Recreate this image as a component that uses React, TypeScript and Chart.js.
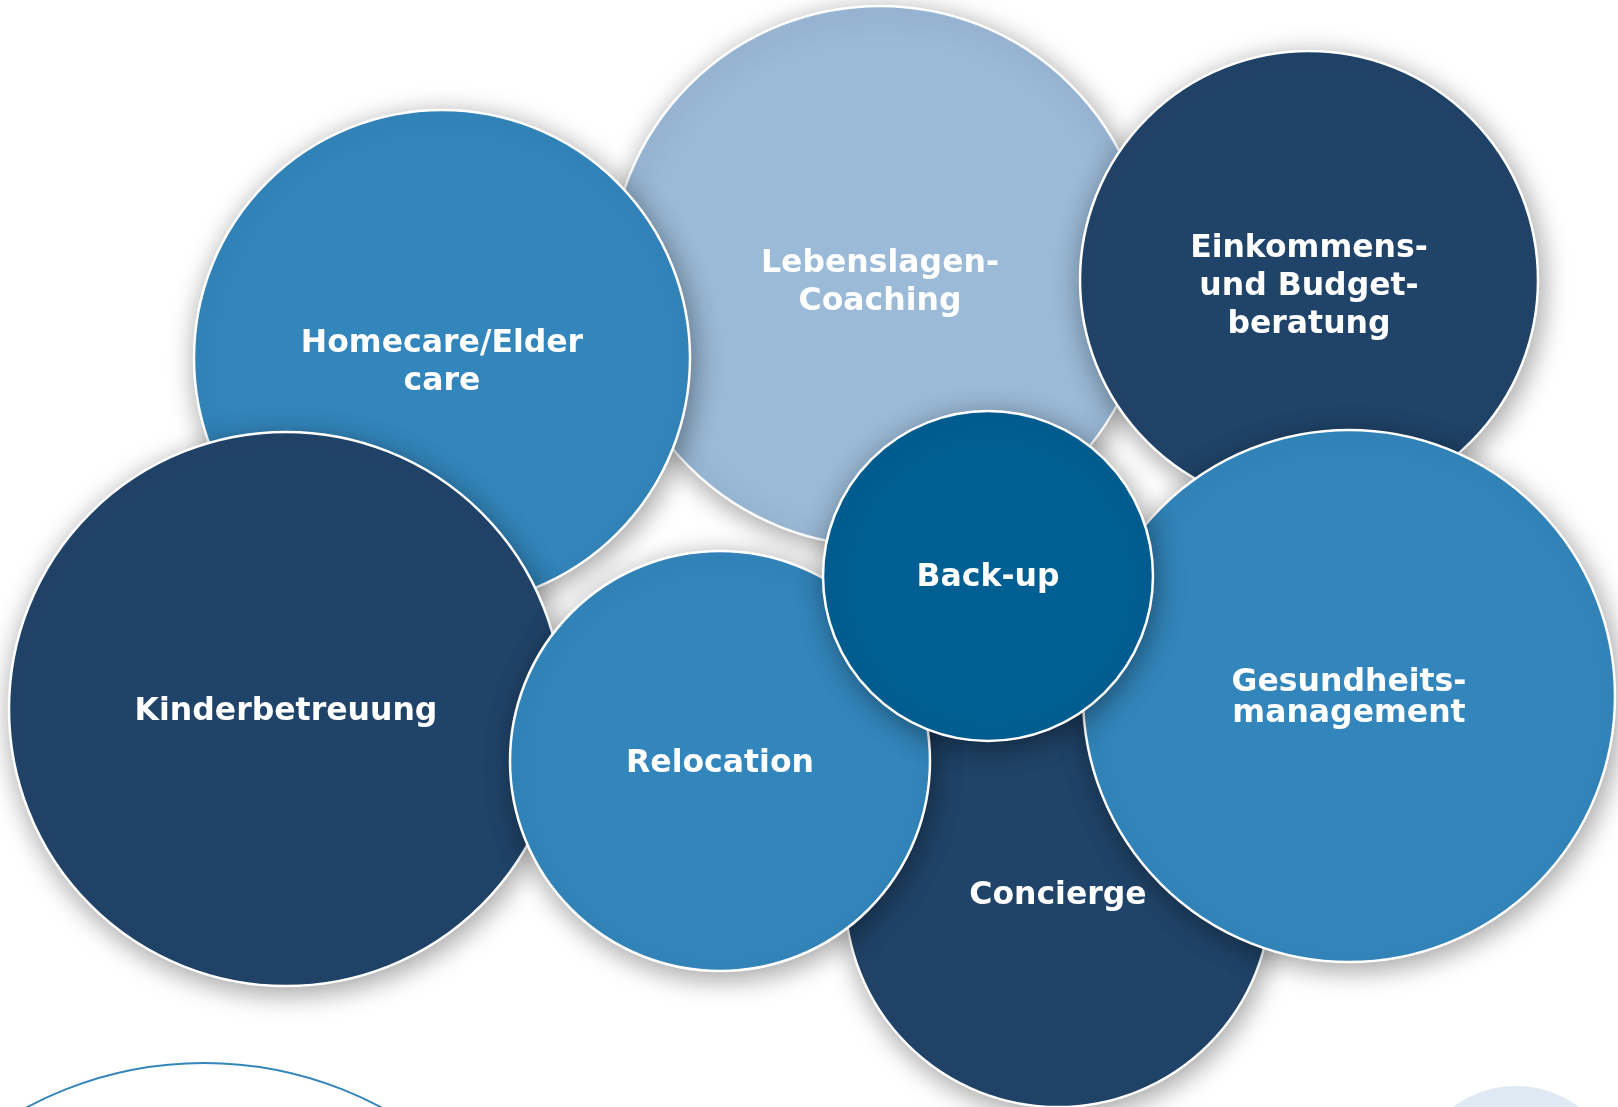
import React, { useEffect, useRef } from "react";
import { Chart, registerables } from "chart.js";

Chart.register(...registerables);

const W = 1618;
const H = 1107;

// Main bubbles (drawing order = data order)
const bubbleLabels: string[][] = [
  ["Lebenslagen-", "Coaching"],
  ["Einkommens-", "und Budget-", "beratung"],
  ["Homecare/Elder", "care"],
  ["Kinderbetreuung"],
  ["Concierge"],
  ["Relocation"],
  ["Gesundheits-", "management"],
  ["Back-up"],
];
const bubbleX = [880, 1309, 442, 286, 1058, 720, 1349, 988];
const bubbleY = [276, 280, 358, 709, 894, 761, 696, 576];
const bubbleR = [270, 229, 248, 277, 213, 210, 266, 165];
const bubbleColors = [
  "#9bbad7",
  "#204469",
  "#3386bc",
  "#204469",
  "#204469",
  "#3386bc",
  "#3386bc",
  "#005f92",
];
const labelLineHeights = [38, 38, 38, 38, 38, 38, 31, 38];
const labelOffsetY = [7, 7, 5, 3, 2, 3, 2, 2];

// Decorative partial circles at the bottom edge
const decoX = [204, 1516];
const decoY = [1439, 1191];
const decoR = [376, 105];
const decoFill = ["rgba(255,255,255,0)", "#dfe9f4"];
const decoBorder = ["#3386bc", "#dfe9f4"];
const decoBorderWidth = [2, 0];

const shadowPlugin = {
  id: "circleShadow",
  beforeDatasetDraw(chart: any, args: any) {
    const ctx = chart.ctx;
    if (args.index === 0) {
      ctx.save();
      ctx.shadowColor = "rgba(0,0,0,0.38)";
      ctx.shadowBlur = 28;
      ctx.shadowOffsetX = 3;
      ctx.shadowOffsetY = 6;
    }
  },
  afterDatasetDraw(chart: any, args: any) {
    if (args.index === 0) {
      chart.ctx.restore();
    }
  },
};

const labelPlugin = {
  id: "bubbleLabels",
  afterDatasetsDraw(chart: any) {
    const ctx = chart.ctx;
    const meta = chart.getDatasetMeta(0);
    ctx.save();
    ctx.shadowColor = "transparent";
    ctx.fillStyle = "#ffffff";
    ctx.font = "bold 31.5px 'DejaVu Sans', Verdana, sans-serif";
    ctx.textAlign = "center";
    ctx.textBaseline = "middle";
    meta.data.forEach((el: any, i: number) => {
      const lines = bubbleLabels[i];
      const lh = labelLineHeights[i];
      const start = el.y + labelOffsetY[i] - ((lines.length - 1) * lh) / 2;
      lines.forEach((line, j) => {
        ctx.fillText(line, el.x, start + j * lh);
      });
    });
    ctx.restore();
  },
};

export default function App() {
  const canvasRef = useRef<HTMLCanvasElement | null>(null);

  useEffect(() => {
    const canvas = canvasRef.current;
    if (!canvas) return;
    const chart = new Chart(canvas, {
      type: "bubble",
      data: {
        datasets: [
          {
            label: "Services",
            data: bubbleX.map((x, i) => ({ x, y: bubbleY[i], r: bubbleR[i] })),
            backgroundColor: bubbleColors,
            hoverBackgroundColor: bubbleColors,
            borderColor: "#ffffff",
            hoverBorderColor: "#ffffff",
            borderWidth: 2.5,
            hoverBorderWidth: 2.5,
            clip: false as any,
          },
          {
            label: "Deco",
            data: decoX.map((x, i) => ({ x, y: decoY[i], r: decoR[i] })),
            backgroundColor: decoFill,
            borderColor: decoBorder,
            borderWidth: decoBorderWidth,
            clip: false as any,
          },
        ],
      },
      options: {
        animation: false,
        responsive: false,
        devicePixelRatio: 1,
        events: [],
        layout: { padding: 0, autoPadding: false } as any,
        plugins: {
          legend: { display: false },
          tooltip: { enabled: false },
        },
        scales: {
          x: { type: "linear", min: 0, max: W, display: false },
          y: { type: "linear", min: 0, max: H, reverse: true, display: false },
        },
      },
      plugins: [shadowPlugin, labelPlugin],
    });
    return () => chart.destroy();
  }, []);

  return (
    <div style={{ position: "absolute", left: 0, top: 0, width: W, height: H, background: "#ffffff", overflow: "hidden" }}>
      <canvas ref={canvasRef} width={W} height={H} style={{ display: "block", width: W, height: H }} />
    </div>
  );
}
